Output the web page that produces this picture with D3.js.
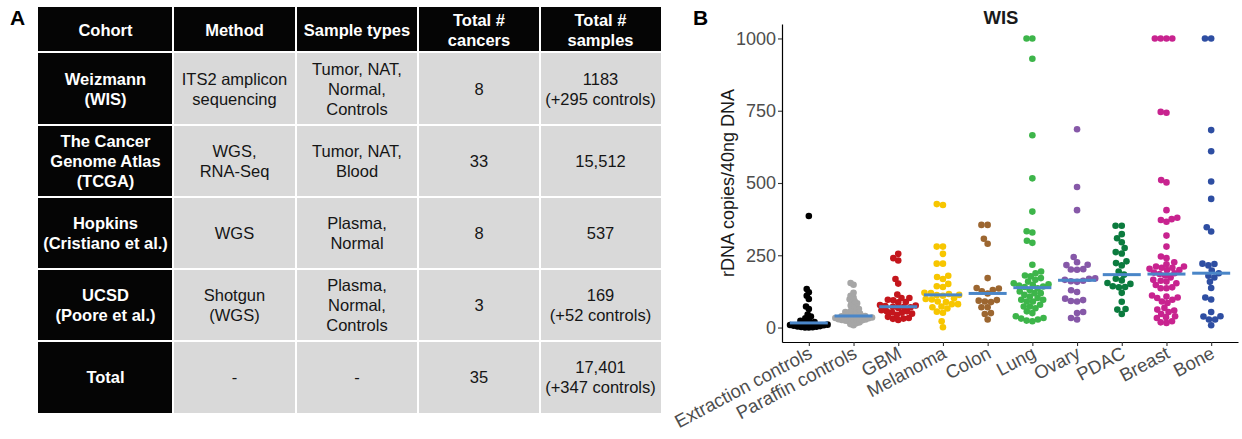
<!DOCTYPE html>
<html>
<head>
<meta charset="utf-8">
<script src="https://cdn.jsdelivr.net/npm/d3@7"></script>
<style>
  body { margin: 0; background: #fff; }
  svg { display: block; font-family: "Liberation Sans", Arial, sans-serif; }
</style>
</head>
<body>
<script>
// ---- Panel A: cohort table ----
const headers = ["Cohort", "Method", "Sample types", "Total #\ncancers", "Total #\nsamples"];
const cohorts = ["Weizmann\n(WIS)", "The Cancer\nGenome Atlas\n(TCGA)", "Hopkins\n(Cristiano et al.)", "UCSD\n(Poore et al.)", "Total"];
const methods = ["ITS2 amplicon\nsequencing", "WGS,\nRNA-Seq", "WGS", "Shotgun\n(WGS)", "-"];
const sampleTypes = ["Tumor, NAT,\nNormal,\nControls", "Tumor, NAT,\nBlood", "Plasma,\nNormal", "Plasma,\nNormal,\nControls", "-"];
const totalCancers = ["8", "33", "8", "3", "35"];
const totalSamples = ["1183\n(+295 controls)", "15,512", "537", "169\n(+52 controls)", "17,401\n(+347 controls)"];

// ---- Panel B: rDNA copies per group (values above 1000 are shown capped at 1000) ----
const groups = ["Extraction controls", "Paraffin controls", "GBM", "Melanoma", "Colon", "Lung", "Ovary", "PDAC", "Breast", "Bone"];
const groupColors = ["#000000", "#a6a6a6", "#c4161c", "#f7c600", "#9c6630", "#3db54a", "#8658a8", "#0b7b3e", "#c8238f", "#2e4ea2"];
const extractionControls = [386, 133, 122, 110, 99, 73, 64, 45, 38, 32, 27, 23, 19, 16, 14, 12, 10, 9, 8, 6, 5, 4, 3, 2, 1, 0, 0];
const paraffinControls = [154, 148, 120, 110, 104, 98, 92, 88, 84, 80, 76, 72, 68, 64, 60, 57, 54, 51, 48, 46, 44, 42, 40, 39, 38, 37, 36, 35, 34, 33, 32, 31, 30, 29, 28, 27, 26, 25, 24, 22, 20, 18, 15, 12, 8];
const gbm = [255, 240, 232, 168, 152, 114, 102, 102, 96, 94, 88, 87, 78, 76, 74, 72, 71, 70, 68, 60, 56, 56, 53, 51, 48, 44, 37, 33, 31, 30, 26];
const melanoma = [427, 424, 280, 280, 255, 221, 221, 179, 175, 168, 151, 143, 140, 120, 119, 116, 113, 112, 110, 101, 99, 97, 90, 88, 81, 81, 73, 70, 66, 55, 51, 22, 1];
const colon = [355, 355, 307, 290, 171, 137, 135, 130, 125, 118, 95, 93, 90, 88, 70, 70, 50, 47, 28];
const lung = [1000, 1000, 930, 665, 516, 401, 333, 329, 300, 293, 217, 194, 188, 180, 177, 171, 165, 159, 153, 150, 147, 145, 142, 140, 136, 130, 125, 119, 119, 113, 107, 102, 96, 96, 90, 90, 79, 73, 73, 67, 56, 50, 39, 33, 31, 28, 24, 22];
const ovary = [686, 486, 406, 244, 226, 217, 216, 202, 201, 200, 170, 169, 165, 162, 160, 158, 129, 123, 100, 95, 92, 90, 54, 50, 33, 28];
const pdac = [352, 352, 323, 309, 295, 275, 261, 256, 229, 223, 215, 194, 183, 169, 163, 154, 151, 143, 140, 139, 120, 89, 64, 62, 47];
const breast = [1000, 1000, 1000, 1000, 746, 743, 510, 502, 406, 380, 375, 372, 366, 318, 280, 246, 240, 226, 219, 211, 211, 207, 207, 203, 199, 199, 190, 188, 185, 180, 173, 165, 162, 159, 153, 147, 139, 136, 136, 111, 107, 104, 102, 96, 90, 85, 68, 62, 59, 54, 47, 39, 36, 33, 22, 18, 16];
const bone = [1000, 1000, 683, 610, 505, 445, 347, 332, 221, 220, 215, 197, 188, 179, 173, 158, 137, 104, 97, 54, 39, 38, 28, 28, 8];
const groupValues = [extractionControls, paraffinControls, gbm, melanoma, colon, lung, ovary, pdac, breast, bone];
const yTicks = [0, 250, 500, 750, 1000];

const W = 1242, H = 439;
const svg = d3.select("body").append("svg").attr("width", W).attr("height", H);

// panel letters
svg.append("text").attr("x", 10).attr("y", 25).attr("font-size", 21).attr("font-weight", "bold").text("A");
svg.append("text").attr("x", 693).attr("y", 25).attr("font-size", 21).attr("font-weight", "bold").text("B");

// ---- table ----
const colEdges = [38, 173, 296, 418, 540, 661];
const rowEdges = [7, 52, 125, 197, 269, 341, 413];
const bodyCols = [cohorts, methods, sampleTypes, totalCancers, totalSamples];
const cells = [];
headers.forEach((h, c) => cells.push({ r: 0, c, text: h, dark: true }));
cohorts.forEach((_, r) => bodyCols.forEach((col, c) => cells.push({ r: r + 1, c, text: col[r], dark: c === 0 })));

const table = svg.append("g");
const cellG = table.selectAll("g.cell").data(cells).enter().append("g").attr("class", "cell");
cellG.append("rect")
  .attr("x", d => colEdges[d.c] + (d.c > 0 ? 1 : 0))
  .attr("y", d => rowEdges[d.r] + (d.r > 0 ? 1 : 0))
  .attr("width", d => colEdges[d.c + 1] - colEdges[d.c] - (d.c > 0 ? 1 : 0) - (d.c < 4 ? 1 : 0))
  .attr("height", d => rowEdges[d.r + 1] - rowEdges[d.r] - (d.r > 0 ? 1 : 0) - (d.r < 5 ? 1 : 0))
  .attr("fill", d => d.dark ? "#050505" : "#d9d9d9");
cellG.each(function(d) {
  const lines = d.text.split("\n");
  const cx = (colEdges[d.c] + colEdges[d.c + 1]) / 2;
  const cy = (rowEdges[d.r] + rowEdges[d.r + 1]) / 2;
  const lh = 20;
  const t = d3.select(this).append("text")
    .attr("text-anchor", "middle")
    .attr("font-size", 16.5)
    .attr("font-weight", d.dark ? "bold" : "normal")
    .attr("fill", d.dark ? "#fff" : "#151515");
  lines.forEach((ln, i) => {
    t.append("tspan").attr("x", cx).attr("y", cy - (lines.length - 1) * lh / 2 + i * lh + 6).text(ln);
  });
});

// ---- chart ----
const x = d3.scalePoint().domain(groups).range([782, 1238]).padding(0.6);
const y = d3.scaleLinear().domain([-50, 1050]).range([342, 24]);

// beeswarm layout: place each point at the x offset closest to the centre without collision
function swarmOnce(values, dist) {
  const pts = values.map(v => ({ v, py: y(Math.min(v, 1000)) })).sort((a, b) => b.py - a.py);
  const placed = [];
  pts.forEach(p => {
    const forb = [];
    placed.forEach(q => {
      const dy = Math.abs(q.py - p.py);
      if (dy < dist) {
        const dx = Math.sqrt(dist * dist - dy * dy);
        forb.push([q.dx - dx, q.dx + dx]);
      }
    });
    const cands = [0];
    forb.forEach(([a, b]) => cands.push(a, b));
    cands.sort((a, b) => Math.abs(a) - Math.abs(b));
    for (const c of cands) {
      if (forb.every(([a, b]) => c <= a + 1e-6 || c >= b - 1e-6)) { p.dx = c; break; }
    }
    placed.push(p);
  });
  return placed;
}
// shrink the spacing for dense groups so every swarm stays about as wide as the median bar
function swarm(values) {
  let dist = 6.2, pts = swarmOnce(values, dist);
  while (d3.max(pts, p => Math.abs(p.dx)) > 19 && dist > 1.5) {
    dist -= 0.2;
    pts = swarmOnce(values, dist);
  }
  return pts;
}

// axes
const yAxis = svg.append("g")
  .attr("transform", "translate(782,0)")
  .call(d3.axisLeft(y).tickValues(yTicks).tickFormat(d3.format("d")).tickSize(4).tickSizeOuter(0).tickPadding(2));
yAxis.select(".domain").attr("stroke", "#000").attr("stroke-width", 1.2);
yAxis.selectAll(".tick line").attr("stroke", "#333").attr("stroke-width", 1.1);
yAxis.selectAll(".tick text").attr("font-size", 18).attr("fill", "#4d4d4d").attr("font-family", null);

const xAxis = svg.append("g")
  .attr("transform", "translate(0,342)")
  .call(d3.axisBottom(x).tickSize(4).tickSizeOuter(0));
xAxis.select(".domain").attr("stroke", "#000").attr("stroke-width", 1.2);
xAxis.selectAll(".tick line").attr("stroke", "#333").attr("stroke-width", 1.1);
xAxis.selectAll(".tick text")
  .attr("font-size", 18.5).attr("fill", "#4d4d4d").attr("font-family", null)
  .attr("text-anchor", "end")
  .attr("x", 0).attr("y", 0).attr("dy", "0.71em")
  .attr("transform", "translate(-2,3.5) rotate(-28)");

// points
groups.forEach((g, i) => {
  const pts = swarm(groupValues[i]);
  svg.append("g").selectAll("circle").data(pts).enter().append("circle")
    .attr("cx", d => x(g) + d.dx)
    .attr("cy", d => d.py)
    .attr("r", 3.3)
    .attr("fill", groupColors[i]);
  // median bar
  svg.append("rect")
    .attr("x", x(g) - 19)
    .attr("y", y(d3.median(groupValues[i])) - 1.5)
    .attr("width", 38)
    .attr("height", 3)
    .attr("fill", "#4a86c8");
});

// titles
svg.append("text").attr("x", 1001).attr("y", 24).attr("text-anchor", "middle")
  .attr("font-size", 18.5).attr("font-weight", "bold").attr("fill", "#1a1a1a").text("WIS");
svg.append("text").attr("transform", "translate(734,183) rotate(-90)").attr("text-anchor", "middle")
  .attr("font-size", 18).attr("fill", "#1a1a1a").text("rDNA copies/40ng DNA");
</script>
</body>
</html>
